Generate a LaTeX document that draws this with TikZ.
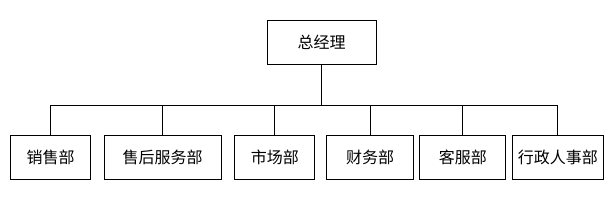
\documentclass[tikz,border=0pt]{standalone}
\usepackage{fontspec}
\setmainfont{Noto Sans CJK SC}
\begin{document}
\begin{tikzpicture}[x=1pt,y=1pt,
  box/.style={draw=black,line width=1pt,minimum height=43.5pt,inner sep=0pt,font=\fontsize{16}{18}\selectfont},
  link/.style={draw=black,line width=1pt}]
\useasboundingbox (0,0) rectangle (614,-200);
\node[box,minimum width=109pt] (top) at (321.5,-42.3) {总经理};
\node[box,minimum width=80pt] (b1) at (50.7,-157.5) {销售部};
\node[box,minimum width=116.7pt] (b2) at (162.7,-157.5) {售后服务部};
\node[box,minimum width=80.3pt] (b3) at (274.8,-157.5) {市场部};
\node[box,minimum width=86.6pt] (b4) at (370,-157.5) {财务部};
\node[box,minimum width=85.7pt] (b5) at (462.8,-157.5) {客服部};
\node[box,minimum width=91pt] (b6) at (557.8,-157.5) {行政人事部};
\coordinate (bus) at (321.5,-105.3);
\draw[link] (top.south) -- (bus);
\draw[link] (b1.north) |- (bus) -| (b6.north);
\foreach \b in {b2,b3,b4,b5} \draw[link] (\b.north) -- (\b.north |- bus);
\end{tikzpicture}
\end{document}
